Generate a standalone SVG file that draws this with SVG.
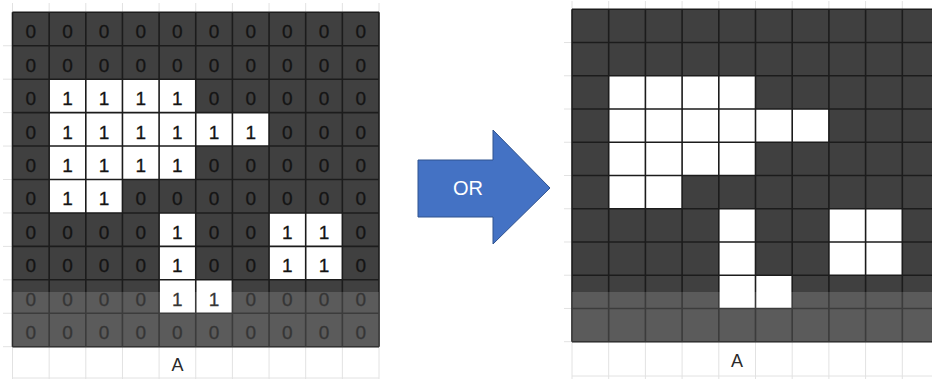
<svg xmlns="http://www.w3.org/2000/svg" width="932" height="379" viewBox="0 0 932 379">
  <style>
    .dark { fill: #404040; }
    .on { fill: #ffffff; }
    .grid { fill: none; stroke: #1c1c1c; stroke-width: 1.6; }
    .faint { fill: none; stroke: #e2e2e2; stroke-width: 1; }
    .shade { fill: #ffffff; fill-opacity: 0.14; }
    .num { font-family: "Liberation Sans", Arial, sans-serif; font-size: 19px; fill: #141414; stroke: #141414; stroke-width: 0.3; text-anchor: middle; }
    .lbl { font-family: "Liberation Sans", Arial, sans-serif; font-size: 18px; fill: #2a2a2a; text-anchor: middle; }
    .arrow { fill: #4472C4; stroke: #2F528F; stroke-width: 1; }
    .arrowtxt { font-family: "Liberation Sans", Arial, sans-serif; font-size: 20px; fill: #ffffff; text-anchor: middle; }
  </style>
  <rect width="932" height="379" fill="#ffffff"/>

  <!-- Left grid: input A -->
  <g id="grid-input">
    <path class="faint" d="M12.5 3V12.3M49.15 3V12.3M85.8 3V12.3M122.45 3V12.3M159.1 3V12.3M195.75 3V12.3M232.4 3V12.3M269.05 3V12.3M305.7 3V12.3M342.35 3V12.3M379 3V12.3
      M3 45.74H12.5M3 79.18H12.5M3 112.62H12.5M3 146.06H12.5M3 179.5H12.5M3 212.94H12.5M3 246.38H12.5M3 279.82H12.5M3 313.26H12.5M3 346.7H12.5
      M12.5 346.7V379M49.15 346.7V379M85.8 346.7V379M122.45 346.7V379M159.1 346.7V379M195.75 346.7V379M232.4 346.7V379M269.05 346.7V379M305.7 346.7V379M342.35 346.7V379M379 346.7V379M12.5 378H379"/>
    <rect class="dark" x="12.5" y="12.3" width="366.5" height="334.4"/>
    <rect class="on" x="49.15" y="79.18" width="146.6" height="33.44"/>
    <rect class="on" x="49.15" y="112.62" width="219.9" height="33.44"/>
    <rect class="on" x="49.15" y="146.06" width="146.6" height="33.44"/>
    <rect class="on" x="49.15" y="179.5" width="73.3" height="33.44"/>
    <rect class="on" x="159.1" y="212.94" width="36.65" height="33.44"/>
    <rect class="on" x="269.05" y="212.94" width="73.3" height="33.44"/>
    <rect class="on" x="159.1" y="246.38" width="36.65" height="33.44"/>
    <rect class="on" x="269.05" y="246.38" width="73.3" height="33.44"/>
    <rect class="on" x="159.1" y="279.82" width="73.3" height="33.44"/>
    <path class="grid" d="M12.5 12.3V346.7M49.15 12.3V346.7M85.8 12.3V346.7M122.45 12.3V346.7M159.1 12.3V346.7M195.75 12.3V346.7M232.4 12.3V346.7M269.05 12.3V346.7M305.7 12.3V346.7M342.35 12.3V346.7M379 12.3V346.7
      M12.5 12.3H379M12.5 45.74H379M12.5 79.18H379M12.5 112.62H379M12.5 146.06H379M12.5 179.5H379M12.5 212.94H379M12.5 246.38H379M12.5 279.82H379M12.5 313.26H379M12.5 346.7H379"/>
    <text class="num" x="30.8 67.5 104.1 140.8 177.4 214.1 250.7 287.4 324 360.7" y="38.2">0000000000</text>
    <text class="num" x="30.8 67.5 104.1 140.8 177.4 214.1 250.7 287.4 324 360.7" y="71.6">0000000000</text>
    <text class="num" x="30.8 67.5 104.1 140.8 177.4 214.1 250.7 287.4 324 360.7" y="105.1">0111100000</text>
    <text class="num" x="30.8 67.5 104.1 140.8 177.4 214.1 250.7 287.4 324 360.7" y="138.5">0111111000</text>
    <text class="num" x="30.8 67.5 104.1 140.8 177.4 214.1 250.7 287.4 324 360.7" y="172">0111100000</text>
    <text class="num" x="30.8 67.5 104.1 140.8 177.4 214.1 250.7 287.4 324 360.7" y="205.4">0110000000</text>
    <text class="num" x="30.8 67.5 104.1 140.8 177.4 214.1 250.7 287.4 324 360.7" y="238.8">0000100110</text>
    <text class="num" x="30.8 67.5 104.1 140.8 177.4 214.1 250.7 287.4 324 360.7" y="272.3">0000100110</text>
    <text class="num" x="30.8 67.5 104.1 140.8 177.4 214.1 250.7 287.4 324 360.7" y="305.7">0000110000</text>
    <text class="num" x="30.8 67.5 104.1 140.8 177.4 214.1 250.7 287.4 324 360.7" y="339.2">0000000000</text>
    <rect class="shade" x="12.5" y="292" width="366.5" height="54.7"/>
    <text class="lbl" x="177.4" y="371">A</text>
  </g>

  <!-- OR arrow -->
  <g id="connectors">
    <g id="or-arrow">
      <polygon class="arrow" points="418,160 493,160 493,130 550,188 493,244 493,217 418,217"/>
      <text class="arrowtxt" x="468" y="195">OR</text>
    </g>
  </g>

  <!-- Right grid: result A -->
  <g id="grid-output">
    <path class="faint" d="M572 1V9.3M608.7 1V9.3M645.4 1V9.3M682.1 1V9.3M718.8 1V9.3M755.5 1V9.3M792.2 1V9.3M828.9 1V9.3M865.6 1V9.3M902.3 1V9.3
      M564 42.54H572M564 75.78H572M564 109.02H572M564 142.26H572M564 175.5H572M564 208.74H572M564 241.98H572M564 275.22H572M564 308.46H572M564 341.7H572
      M572 341.7V379M608.7 341.7V379M645.4 341.7V379M682.1 341.7V379M718.8 341.7V379M755.5 341.7V379M792.2 341.7V379M828.9 341.7V379M865.6 341.7V379M902.3 341.7V379M572 376H932"/>
    <rect class="dark" x="572" y="9.3" width="370" height="332.4"/>
    <rect class="on" x="608.7" y="75.78" width="146.8" height="33.24"/>
    <rect class="on" x="608.7" y="109.02" width="220.2" height="33.24"/>
    <rect class="on" x="608.7" y="142.26" width="146.8" height="33.24"/>
    <rect class="on" x="608.7" y="175.5" width="73.4" height="33.24"/>
    <rect class="on" x="718.8" y="208.74" width="36.7" height="33.24"/>
    <rect class="on" x="828.9" y="208.74" width="73.4" height="33.24"/>
    <rect class="on" x="718.8" y="241.98" width="36.7" height="33.24"/>
    <rect class="on" x="828.9" y="241.98" width="73.4" height="33.24"/>
    <rect class="on" x="718.8" y="275.22" width="73.4" height="33.24"/>
    <path class="grid" d="M572 9.3V341.7M608.7 9.3V341.7M645.4 9.3V341.7M682.1 9.3V341.7M718.8 9.3V341.7M755.5 9.3V341.7M792.2 9.3V341.7M828.9 9.3V341.7M865.6 9.3V341.7M902.3 9.3V341.7
      M572 9.3H932M572 42.54H932M572 75.78H932M572 109.02H932M572 142.26H932M572 175.5H932M572 208.74H932M572 241.98H932M572 275.22H932M572 308.46H932M572 341.7H932"/>
    <rect class="shade" x="572" y="292" width="360" height="49.7"/>
    <text class="lbl" x="737" y="367">A</text>
  </g>
</svg>
